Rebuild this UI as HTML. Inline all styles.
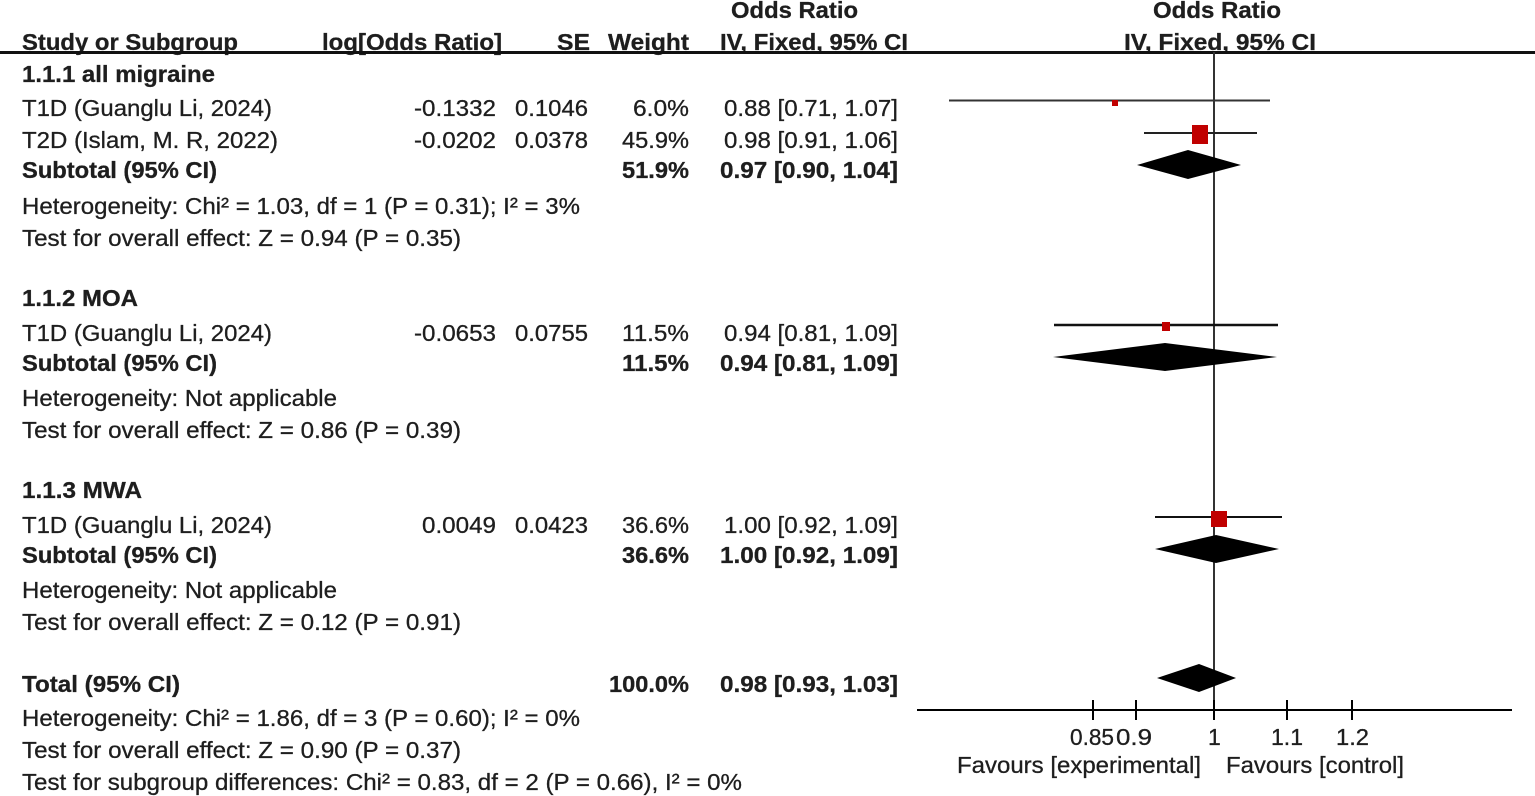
<!DOCTYPE html>
<html><head><meta charset="utf-8"><style>
html,body{margin:0;padding:0;background:#fff;}
svg{display:block;}
text{font-family:"Liberation Sans",Arial,sans-serif;font-size:23px;fill:#1e1e1e;stroke:#1e1e1e;stroke-width:0.3px;}
.b{font-weight:bold;}
</style></head><body>
<svg width="1535" height="796" viewBox="0 0 1535 796" xmlns="http://www.w3.org/2000/svg">
<text class="b" x="731" y="18" textLength="127" lengthAdjust="spacingAndGlyphs">Odds Ratio</text>
<text class="b" x="1153" y="18" textLength="128" lengthAdjust="spacingAndGlyphs">Odds Ratio</text>
<text class="b" x="22" y="50" textLength="216" lengthAdjust="spacingAndGlyphs">Study or Subgroup</text>
<text class="b" x="322" y="50" textLength="180" lengthAdjust="spacingAndGlyphs">log[Odds Ratio]</text>
<text class="b" x="557" y="50" textLength="33" lengthAdjust="spacingAndGlyphs">SE</text>
<text class="b" x="608" y="50" textLength="81" lengthAdjust="spacingAndGlyphs">Weight</text>
<text class="b" x="720" y="50" textLength="188" lengthAdjust="spacingAndGlyphs">IV, Fixed, 95% CI</text>
<text class="b" x="1124" y="50" textLength="192" lengthAdjust="spacingAndGlyphs">IV, Fixed, 95% CI</text>
<line x1="0" y1="52.5" x2="1535" y2="52.5" stroke="#111" stroke-width="3"/>

<text class="b" x="22" y="82" textLength="193" lengthAdjust="spacingAndGlyphs">1.1.1 all migraine</text>
<text x="22" y="116" textLength="250" lengthAdjust="spacingAndGlyphs">T1D (Guanglu Li, 2024)</text>
<text x="414" y="116" textLength="82" lengthAdjust="spacingAndGlyphs">-0.1332</text>
<text x="515" y="116" textLength="73" lengthAdjust="spacingAndGlyphs">0.1046</text>
<text x="633" y="116" textLength="56" lengthAdjust="spacingAndGlyphs">6.0%</text>
<text x="724" y="116" textLength="174" lengthAdjust="spacingAndGlyphs">0.88 [0.71, 1.07]</text>
<text x="22" y="148" textLength="256" lengthAdjust="spacingAndGlyphs">T2D (Islam, M. R, 2022)</text>
<text x="414" y="148" textLength="82" lengthAdjust="spacingAndGlyphs">-0.0202</text>
<text x="515" y="148" textLength="73" lengthAdjust="spacingAndGlyphs">0.0378</text>
<text x="622" y="148" textLength="67" lengthAdjust="spacingAndGlyphs">45.9%</text>
<text x="724" y="148" textLength="174" lengthAdjust="spacingAndGlyphs">0.98 [0.91, 1.06]</text>
<text class="b" x="22" y="178" textLength="195" lengthAdjust="spacingAndGlyphs">Subtotal (95% CI)</text>
<text class="b" x="622" y="178" textLength="67" lengthAdjust="spacingAndGlyphs">51.9%</text>
<text class="b" x="720" y="178" textLength="178" lengthAdjust="spacingAndGlyphs">0.97 [0.90, 1.04]</text>
<text x="22" y="214" textLength="558" lengthAdjust="spacingAndGlyphs">Heterogeneity: Chi² = 1.03, df = 1 (P = 0.31); I² = 3%</text>
<text x="22" y="246" textLength="439" lengthAdjust="spacingAndGlyphs">Test for overall effect: Z = 0.94 (P = 0.35)</text>

<text class="b" x="22" y="306" textLength="116" lengthAdjust="spacingAndGlyphs">1.1.2 MOA</text>
<text x="22" y="341" textLength="250" lengthAdjust="spacingAndGlyphs">T1D (Guanglu Li, 2024)</text>
<text x="414" y="341" textLength="82" lengthAdjust="spacingAndGlyphs">-0.0653</text>
<text x="515" y="341" textLength="73" lengthAdjust="spacingAndGlyphs">0.0755</text>
<text x="622" y="341" textLength="67" lengthAdjust="spacingAndGlyphs">11.5%</text>
<text x="724" y="341" textLength="174" lengthAdjust="spacingAndGlyphs">0.94 [0.81, 1.09]</text>
<text class="b" x="22" y="371" textLength="195" lengthAdjust="spacingAndGlyphs">Subtotal (95% CI)</text>
<text class="b" x="622" y="371" textLength="67" lengthAdjust="spacingAndGlyphs">11.5%</text>
<text class="b" x="720" y="371" textLength="178" lengthAdjust="spacingAndGlyphs">0.94 [0.81, 1.09]</text>
<text x="22" y="406" textLength="315" lengthAdjust="spacingAndGlyphs">Heterogeneity: Not applicable</text>
<text x="22" y="438" textLength="439" lengthAdjust="spacingAndGlyphs">Test for overall effect: Z = 0.86 (P = 0.39)</text>

<text class="b" x="22" y="498" textLength="120" lengthAdjust="spacingAndGlyphs">1.1.3 MWA</text>
<text x="22" y="533" textLength="250" lengthAdjust="spacingAndGlyphs">T1D (Guanglu Li, 2024)</text>
<text x="422" y="533" textLength="74" lengthAdjust="spacingAndGlyphs">0.0049</text>
<text x="515" y="533" textLength="73" lengthAdjust="spacingAndGlyphs">0.0423</text>
<text x="622" y="533" textLength="67" lengthAdjust="spacingAndGlyphs">36.6%</text>
<text x="724" y="533" textLength="174" lengthAdjust="spacingAndGlyphs">1.00 [0.92, 1.09]</text>
<text class="b" x="22" y="563" textLength="195" lengthAdjust="spacingAndGlyphs">Subtotal (95% CI)</text>
<text class="b" x="622" y="563" textLength="67" lengthAdjust="spacingAndGlyphs">36.6%</text>
<text class="b" x="720" y="563" textLength="178" lengthAdjust="spacingAndGlyphs">1.00 [0.92, 1.09]</text>
<text x="22" y="598" textLength="315" lengthAdjust="spacingAndGlyphs">Heterogeneity: Not applicable</text>
<text x="22" y="630" textLength="439" lengthAdjust="spacingAndGlyphs">Test for overall effect: Z = 0.12 (P = 0.91)</text>

<text class="b" x="22" y="692" textLength="158" lengthAdjust="spacingAndGlyphs">Total (95% CI)</text>
<text class="b" x="609" y="692" textLength="80" lengthAdjust="spacingAndGlyphs">100.0%</text>
<text class="b" x="720" y="692" textLength="178" lengthAdjust="spacingAndGlyphs">0.98 [0.93, 1.03]</text>
<text x="22" y="726" textLength="558" lengthAdjust="spacingAndGlyphs">Heterogeneity: Chi² = 1.86, df = 3 (P = 0.60); I² = 0%</text>
<text x="22" y="758" textLength="439" lengthAdjust="spacingAndGlyphs">Test for overall effect: Z = 0.90 (P = 0.37)</text>
<text x="22" y="790" textLength="720" lengthAdjust="spacingAndGlyphs">Test for subgroup differences: Chi² = 0.83, df = 2 (P = 0.66), I² = 0%</text>

<line x1="1214" y1="52" x2="1214" y2="710" stroke="#333" stroke-width="2"/>
<line x1="949" y1="100.5" x2="1270" y2="100.5" stroke="#333" stroke-width="2"/>
<rect x="1112" y="100" width="6" height="6" fill="#c00000"/>
<line x1="1144" y1="133" x2="1257" y2="133" stroke="#222" stroke-width="2"/>
<rect x="1192" y="125" width="16" height="19" fill="#c00000"/>
<polygon points="1137,165 1188,150 1241,165 1188,179" fill="#000"/>

<line x1="1054" y1="325" x2="1278" y2="325" stroke="#111" stroke-width="2.5"/>
<rect x="1162" y="322" width="8" height="9" fill="#c00000"/>
<polygon points="1053,357 1165,343 1277,357 1165,371" fill="#000"/>

<line x1="1155" y1="517" x2="1282" y2="517" stroke="#111" stroke-width="2"/>
<rect x="1211" y="511" width="16" height="16" fill="#c00000"/>
<polygon points="1155,549 1216,535 1279,549 1216,563" fill="#000"/>

<polygon points="1157,678 1199,664 1236,678 1199,692" fill="#000"/>

<line x1="917" y1="710" x2="1512" y2="710" stroke="#000" stroke-width="2"/>
<g stroke="#000" stroke-width="2">
<line x1="1093" y1="700" x2="1093" y2="720"/>
<line x1="1136" y1="700" x2="1136" y2="720"/>
<line x1="1214" y1="700" x2="1214" y2="720"/>
<line x1="1287" y1="700" x2="1287" y2="720"/>
<line x1="1352" y1="700" x2="1352" y2="720"/>
</g>
<text x="1070" y="745" textLength="44" lengthAdjust="spacingAndGlyphs">0.85</text>
<text x="1116" y="745" textLength="36" lengthAdjust="spacingAndGlyphs">0.9</text>
<text x="1208" y="745">1</text>
<text x="1271" y="745" textLength="32" lengthAdjust="spacingAndGlyphs">1.1</text>
<text x="1336" y="745" textLength="33" lengthAdjust="spacingAndGlyphs">1.2</text>
<text x="957" y="773" textLength="244" lengthAdjust="spacingAndGlyphs">Favours [experimental]</text>
<text x="1226" y="773" textLength="178" lengthAdjust="spacingAndGlyphs">Favours [control]</text>
</svg>
</body></html>
